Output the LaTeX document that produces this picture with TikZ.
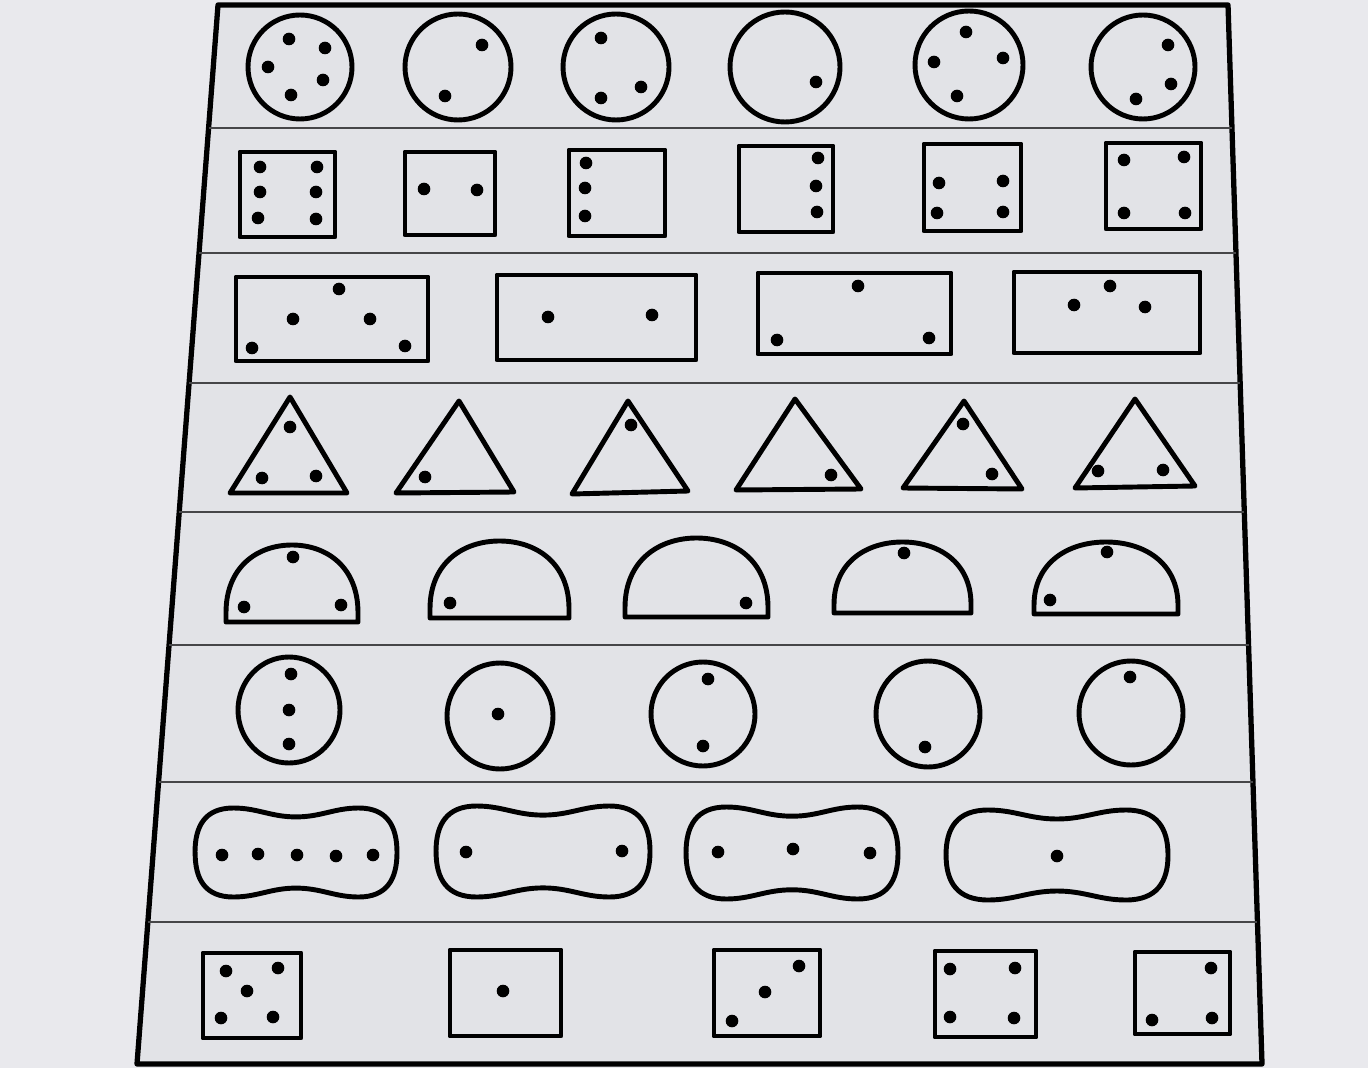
\documentclass[tikz,border=0pt]{standalone}
\usepackage{tikz}
\usetikzlibrary{calc}
\definecolor{paperColor}{RGB}{233,233,237}
\definecolor{sheetColor}{RGB}{226,227,231}
\definecolor{ruleColor}{RGB}{70,70,72}
\tikzstyle{frame} = [line width=1.5pt, draw=black, fill=sheetColor, line join=round]
\tikzstyle{rowline} = [line width=0.5pt, draw=ruleColor]
\tikzstyle{shapeline} = [line width=1.4pt, draw=black, line join=round]
\newcommand{\pips}[1]{\foreach \px/\py in {#1} \fill (\px,\py) circle[radius=6.3];}

\begin{document}
\begin{tikzpicture}[x=0.1mm, y=-0.1mm]
            % Paper and sheet
            \fill[paperColor] (0,0) rectangle (1368,1068);
            \useasboundingbox (0,0) rectangle (1368,1068);
            \coordinate (tl) at (218,5);
            \coordinate (tr) at (1228,5);
            \coordinate (br) at (1262,1064);
            \coordinate (bl) at (137,1064);
            \draw[frame] (tl) -- (tr) -- (br) -- (bl) -- cycle;

            % Row separators
            \foreach \t in {0.116, 0.234, 0.357, 0.479, 0.604, 0.734, 0.866}
                \draw[rowline] ($(tl)!\t!(bl)$) -- ($(tr)!\t!(br)$);

            % Row 1: circles
            \foreach \cx/\cy/\r in {300/67/52, 458/67/53, 616/67/53, 785/67/55, 969/65/54, 1143/67/52}
                \draw[shapeline] (\cx,\cy) circle[radius=\r];
            \pips{289/39, 325/48, 268/67, 323/80, 291/95}
            \pips{482/45, 445/96}
            \pips{601/38, 641/87, 601/98}
            \pips{816/82}
            \pips{966/32, 1003/58, 934/62, 957/96}
            \pips{1168/45, 1171/84, 1136/99}

            % Row 2: squares
            \foreach \xa/\ya/\xb/\yb in {240/152/335/237, 405/152/495/235, 569/150/665/236, 739/146/833/232, 924/144/1021/231, 1106/143/1201/229}
                \draw[shapeline] (\xa,\ya) rectangle (\xb,\yb);
            \pips{260/167, 317/167, 260/192, 316/192, 258/218, 316/219}
            \pips{424/189, 477/190}
            \pips{586/163, 585/188, 585/216}
            \pips{818/158, 816/186, 817/212}
            \pips{939/183, 1003/181, 937/213, 1003/212}
            \pips{1124/160, 1184/157, 1124/213, 1185/213}

            % Row 3: long rectangles
            \foreach \xa/\ya/\xb/\yb in {236/277/428/361, 497/275/696/360, 758/273/951/354, 1014/272/1200/353}
                \draw[shapeline] (\xa,\ya) rectangle (\xb,\yb);
            \pips{339/289, 293/319, 370/319, 252/348, 405/346}
            \pips{548/317, 652/315}
            \pips{858/286, 777/340, 929/338}
            \pips{1110/286, 1074/305, 1145/307}

            % Row 4: triangles
            \foreach \ax/\ay/\lx/\ly/\rx/\ry in {290/397/230/493/347/493, 459/401/396/493/514/492, 628/401/572/494/688/491, 795/399/736/490/861/489, 964/401/903/488/1022/489, 1135/399/1075/488/1195/486}
                \draw[shapeline] (\ax,\ay) -- (\rx,\ry) -- (\lx,\ly) -- cycle;
            \pips{290/427, 262/478, 316/476}
            \pips{425/477}
            \pips{631/425}
            \pips{831/475}
            \pips{963/424, 992/474}
            \pips{1098/471, 1163/470}

            % Row 5: domes
            \foreach \cx/\by/\w/\h in {292/622/66/77, 499.5/618/69.5/77, 696.5/617/71.5/79, 902.5/613/68.5/71, 1106/614/72/72} {
                \begin{scope}[shift={(\cx,\by)}, xscale=\w, yscale=\h]
                    \draw[shapeline] (-1,0) -- (-1,-0.12) .. controls (-1,-0.72) and (-0.52,-1) .. (0,-1)
                        .. controls (0.52,-1) and (1,-0.72) .. (1,-0.12) -- (1,0) -- cycle;
                \end{scope}
            }
            \pips{293/557, 244/607, 341/605}
            \pips{450/603}
            \pips{746/603}
            \pips{904/553}
            \pips{1107/552, 1050/600}

            % Row 6: round shapes
            \foreach \cx/\cy/\rx/\ry in {289/710/51/53, 500/716/53/53, 703/714/52/52, 928/714/52/53, 1131/713/52/52}
                \draw[shapeline] (\cx,\cy) ellipse[x radius=\rx, y radius=\ry];
            \pips{291/674, 289/710, 289/744}
            \pips{498/714}
            \pips{708/679, 703/746}
            \pips{925/747}
            \pips{1130/677}

            % Row 7: peanuts
            \foreach \cx/\cy/\w/\h in {296/852.5/101/44.5, 543/851.5/107/45.5, 792/853/106/46, 1057/855/111/45} {
                \begin{scope}[shift={(\cx,\cy)}, xscale=\w, yscale=\h]
                    \draw[shapeline] (-1,0) .. controls (-1,-0.6) and (-0.9,-1) .. (-0.62,-1)
                        .. controls (-0.38,-1) and (-0.25,-0.8) .. (0,-0.8)
                        .. controls (0.25,-0.8) and (0.38,-1) .. (0.62,-1)
                        .. controls (0.9,-1) and (1,-0.6) .. (1,0)
                        .. controls (1,0.6) and (0.9,1) .. (0.62,1)
                        .. controls (0.38,1) and (0.25,0.8) .. (0,0.8)
                        .. controls (-0.25,0.8) and (-0.38,1) .. (-0.62,1)
                        .. controls (-0.9,1) and (-1,0.6) .. cycle;
                \end{scope}
            }
            \pips{222/855, 258/854, 297/855, 336/856, 373/855}
            \pips{466/852, 622/851}
            \pips{718/852, 793/849, 870/853}
            \pips{1057/856}

            % Row 8: dice
            \foreach \xa/\ya/\xb/\yb in {203/953/301/1038, 450/950/561/1036, 714/950/820/1036, 935/951/1036/1037, 1135/952/1230/1034}
                \draw[shapeline] (\xa,\ya) rectangle (\xb,\yb);
            \pips{226/971, 278/968, 247/991, 221/1018, 273/1017}
            \pips{503/991}
            \pips{799/966, 765/992, 732/1021}
            \pips{950/969, 1015/968, 950/1017, 1014/1018}
            \pips{1211/968, 1152/1020, 1212/1018}
\end{tikzpicture}
\end{document}
